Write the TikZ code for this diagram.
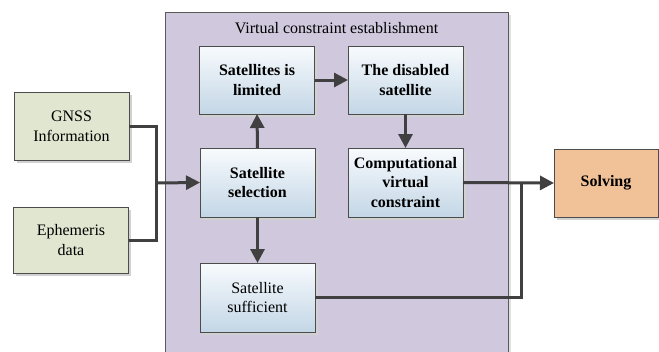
\documentclass[tikz,border=0pt]{standalone}
\usepackage{fontspec}
\setmainfont{Liberation Serif}
\usetikzlibrary{arrows.meta,shadows}

\definecolor{panel}{RGB}{208,200,221}
\definecolor{inbox}{RGB}{224,230,207}
\definecolor{outbox}{RGB}{241,193,151}
\definecolor{stepTop}{RGB}{248,251,253}
\definecolor{stepBot}{RGB}{195,214,230}
\definecolor{wire}{RGB}{64,64,64}

\tikzset{
  blk/.style={draw=black!70, line width=0.8pt, inner sep=0pt, outer sep=0pt,
    minimum width=115pt, minimum height=68pt, align=center,
    font=\fontsize{16}{19.5}\selectfont,
    drop shadow={shadow xshift=2.5pt, shadow yshift=-2.5pt, fill=black!18, opacity=1}},
  srcbox/.style={blk, fill=inbox},
  stepbox/.style={blk, top color=stepTop, bottom color=stepBot},
  boldbox/.style={stepbox, font=\fontsize{16}{19.5}\selectfont\bfseries},
  endbox/.style={blk, fill=outbox, minimum width=104pt, font=\fontsize{16}{19.5}\selectfont\bfseries},
  link/.style={draw=wire, line width=3pt},
  flow/.style={link, -{Triangle[length=14pt,width=14pt]}}
}

\begin{document}
\begin{tikzpicture}[x=1pt,y=-1pt]
  \clip (0,0) rectangle (659,351);
  \fill[white] (0,0) rectangle (659,351);

  % panel
  \fill[black!12] (168,15) rectangle (511,360);
  \draw[black!65, line width=0.8pt, fill=panel] (165,12) rectangle (508,360);
  \node (title) at (336.5,28) {\fontsize{16}{19.5}\selectfont Virtual constraint establishment};

  % inputs
  \node[srcbox] (gnss) at (71.5,126.5) {GNSS\\Information};
  \node[srcbox, minimum height=66pt] (ephem) at (71,240) {Ephemeris\\data};

  % inside panel
  \node[boldbox] (limited) at (257,80) {Satellites is\\limited};
  \node[boldbox] (disabled) at (405.5,80) {The disabled\\satellite};
  \node[boldbox, minimum height=69pt] (select) at (257.5,182.5) {Satellite\\selection};
  \node[boldbox, minimum height=69pt] (comput) at (405.5,182.5) {Computational\\virtual\\constraint};
  \node[stepbox, minimum height=69pt] (suffic) at (257.5,297.5) {Satellite\\sufficient};

  % output
  \node[endbox] (solving) at (606,183) {Solving};

  \coordinate (join) at (156,183);
  \coordinate (merge) at (521,183);

  \draw[link] (gnss.east) -| (join);
  \draw[link] (ephem.east) -| (join);
  \draw[flow] (join) -- (select.west);
  \draw[flow] (select.north) -- (limited.south);
  \draw[flow] (limited.east) -- (disabled.west);
  \draw[flow] (disabled.south) -- (comput.north);
  \draw[flow] (select.south) -- (suffic.north);
  \draw[link] (suffic.east) -| (merge);
  \draw[flow] (comput.east) -- (solving.west);
\end{tikzpicture}
\end{document}
